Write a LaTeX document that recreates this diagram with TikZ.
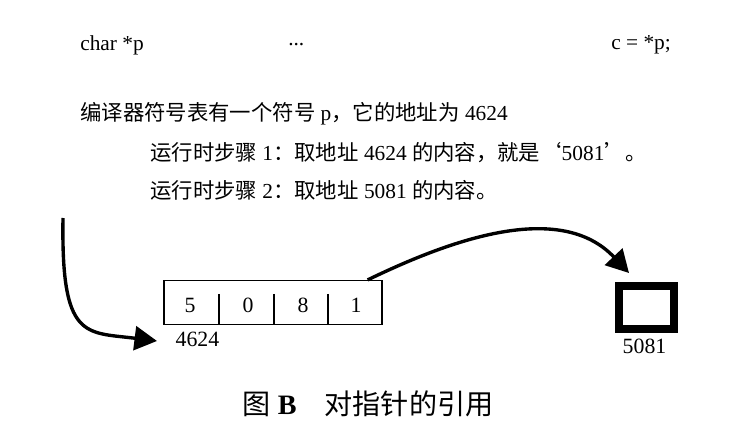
\documentclass[tikz,border=0pt]{standalone}
\usepackage{fontspec}
\setmainfont{Liberation Serif}
\newfontfamily\cjk{Noto Sans CJK SC}
\usetikzlibrary{calc}
\usetikzlibrary{arrows.meta}

\begin{document}
\begin{tikzpicture}[x=0.025cm,y=-0.025cm,
    txt/.style={anchor=west,inner sep=0pt,font=\fontsize{15.2}{18}\selectfont},
    lbl/.style={inner sep=0pt,font=\fontsize{15.5}{18}\selectfont},
    ptr/.style={line width=2.4pt,-{Triangle[length=16pt,width=17pt]}}]
    \useasboundingbox (0,0) rectangle (736,431);
    % source lines
    \node[txt] (decl) at (80,45) {char *p};
    \node[txt] (dots) at (288,45) {...};
    \node[txt] (use) at (611,45) {c = *p;};

    \node[txt] (table) at (80,114) {{\cjk 编译器符号表有一个符号} p{\cjk ，它的地址为} 4624};
    \node[txt] (step1) at (150,153) {{\cjk 运行时步骤} 1{\cjk ：取地址} 4624 {\cjk 的内容，就是‘}5081{\cjk ’。}};
    \node[txt] (step2) at (150,190) {{\cjk 运行时步骤} 2{\cjk ：取地址} 5081 {\cjk 的内容。}};

    % memory at 4624
    \node[draw,line width=0.8pt,minimum width=5.45cm,minimum height=1.1cm,inner sep=0pt] (word) at (273,302.5) {};
    \foreach \x in {219,274,328}
        \draw[line width=0.8pt] (\x,294) -- (\x,325);
    \foreach \d/\x in {5/190,0/248,8/303,1/356}
        \node[lbl] (d\d) at (\x,305) {\d};
    \node[lbl,anchor=north west] (addr) at ($(word.south west)+(12,7)$) {4624};

    % memory at 5081
    \node[draw,line width=5.7pt,minimum width=1.375cm,minimum height=1.075cm,inner sep=0pt] (cell) at (646.5,307.5) {};
    \node[lbl,anchor=north] (target) at ($(cell.south)+(-2,6)$) {5081};

    % the two steps
    \coordinate (start) at (63,218);
    \coordinate (into) at (157,341);
    \coordinate (from) at ($(word.north east)+(-15,0)$);
    \coordinate (onto) at (629,273);
    \draw[ptr] (start) .. controls (61,340) and (85,332) .. (into);
    \draw[ptr] (from) .. controls (450,240) and (560,200) .. (onto);

    \node[lbl,font=\fontsize{20}{22}\selectfont] (caption) at (368,404) {{\cjk 图} \textbf{B}{\cjk 　对指针的引用}};
\end{tikzpicture}
\end{document}
